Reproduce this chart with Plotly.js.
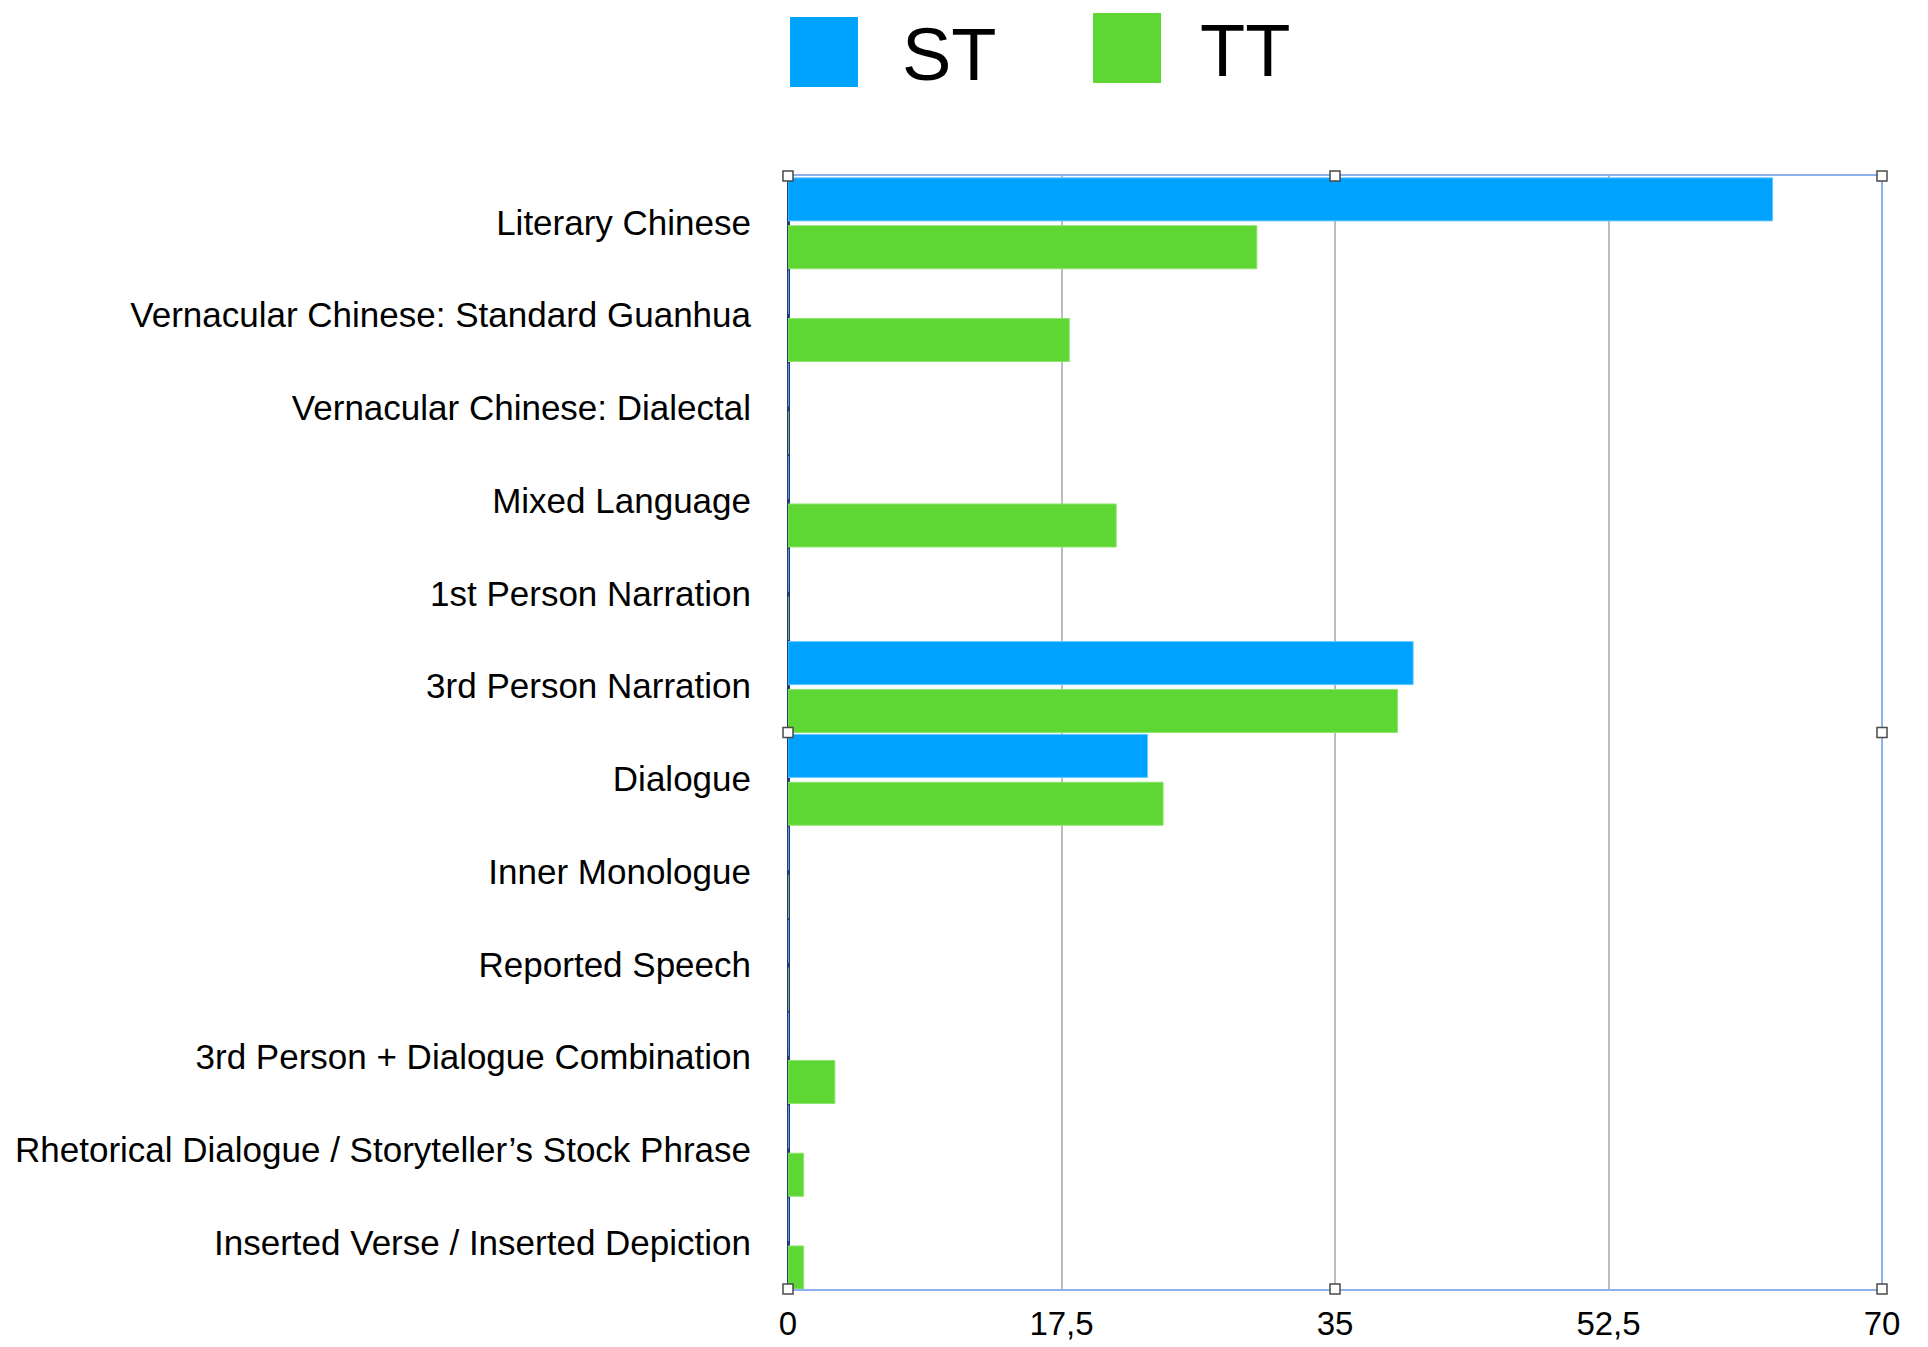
<!DOCTYPE html>
<html>
<head>
<meta charset="utf-8">
<script src="https://cdn.plot.ly/plotly-3.0.1.min.js"></script>
<style>html,body{margin:0;padding:0;background:#fff;}#chart{width:1928px;height:1347px;}</style>
</head>
<body>
<div id="chart"></div>
<script>
var categories = [
  "Literary Chinese",
  "Vernacular Chinese: Standard Guanhua",
  "Vernacular Chinese: Dialectal",
  "Mixed Language",
  "1st Person Narration",
  "3rd Person Narration",
  "Dialogue",
  "Inner Monologue",
  "Reported Speech",
  "3rd Person + Dialogue Combination",
  "Rhetorical Dialogue / Storyteller\u2019s Stock Phrase",
  "Inserted Verse / Inserted Depiction"
];
var seriesNames = ["ST", "TT"];
var stValues = [63, 0, 0, 0, 0, 40, 23, 0, 0, 0, 0, 0];
var ttValues = [30, 18, 0, 21, 0, 39, 24, 0, 0, 3, 1, 1];
var tickValues = [0, 17.5, 35, 52.5, 70];
var tickLabels = ["0", "17,5", "35", "52,5", "70"];

var BLUE = "#00A2FF", GREEN = "#5ED734";
var FONT = "Liberation Sans, Helvetica, Arial, sans-serif";

var traces = [
  {type: "bar", orientation: "h", name: seriesNames[0], y: categories, x: stValues,
   marker: {color: BLUE, line: {color: "#66c8ff", width: 1}}, width: 0.464, offset: -0.48, showlegend: false, hoverinfo: "x+y"},
  {type: "bar", orientation: "h", name: seriesNames[1], y: categories, x: ttValues,
   marker: {color: GREEN, line: {color: "#8fe36f", width: 1}}, width: 0.464, offset: 0.036, showlegend: false, hoverinfo: "x+y"}
];

// plot area in pixels: x 788..1882, y 176..1289
var L = 788, R = 1882, T = 176, B = 1289;
function px(x){ return (x - L) / (R - L); }
function py(y){ return (B - y) / (B - T); }

var shapes = [];
// right border
shapes.push({type: "line", xref: "paper", yref: "paper", x0: 1, x1: 1, y0: 0, y1: 1, line: {color: "#8fb0ee", width: 2}, layer: "above"});
// selection handles
var hx = [0, 0.5, 1], hy = [0, 0.5, 1];
hx.forEach(function(xx){ hy.forEach(function(yy){
  if (xx === 0.5 && yy === 0.5) return;
  shapes.push({type: "rect", xref: "paper", yref: "paper", xsizemode: "pixel", ysizemode: "pixel",
    xanchor: xx, yanchor: yy, x0: -5, x1: 5, y0: -5, y1: 5,
    fillcolor: "#ffffff", line: {color: "#4a4a4a", width: 1.5}, layer: "above"});
});});
// legend swatches
shapes.push({type: "rect", xref: "paper", yref: "paper", x0: px(790), x1: px(858), y0: py(87), y1: py(17), fillcolor: BLUE, line: {width: 0}});
shapes.push({type: "rect", xref: "paper", yref: "paper", x0: px(1093), x1: px(1161), y0: py(83), y1: py(13), fillcolor: GREEN, line: {width: 0}});

var annotations = [
  {xref: "paper", yref: "paper", x: px(900), y: py(55), xanchor: "left", yanchor: "middle", showarrow: false,
   text: seriesNames[0], font: {family: FONT, size: 74, color: "#000"}},
  {xref: "paper", yref: "paper", x: px(1198), y: py(50), xanchor: "left", yanchor: "middle", showarrow: false,
   text: seriesNames[1], font: {family: FONT, size: 74, color: "#000"}}
];

var layout = {
  width: 1928, height: 1347,
  margin: {l: L, r: 1928 - R, t: T, b: 1347 - B, pad: 0},
  paper_bgcolor: "#fff", plot_bgcolor: "#fff",
  barmode: "group",
  showlegend: false,
  font: {family: FONT, color: "#000"},
  xaxis: {range: [0, 70], tickmode: "array", tickvals: tickValues, ticktext: tickLabels, showgrid: true, gridcolor: "#bcbcbc", gridwidth: 2,
          zeroline: true, zerolinecolor: "#233a78", zerolinewidth: 3,
          showline: true, mirror: true, linecolor: "#8fb0ee", linewidth: 2,
          ticks: "", tickfont: {family: FONT, size: 33, color: "#000"}, ticklabelstandoff: 4, fixedrange: true},
  yaxis: {type: "category", categoryorder: "array", categoryarray: categories, autorange: "reversed",
          showgrid: false, zeroline: false, showline: false, ticks: "",
          tickfont: {family: FONT, size: 35, color: "#000"}, ticklabelstandoff: 36, fixedrange: true},
  shapes: shapes,
  annotations: annotations
};

Plotly.newPlot("chart", traces, layout, {displayModeBar: false, staticPlot: true});
</script>
</body>
</html>
